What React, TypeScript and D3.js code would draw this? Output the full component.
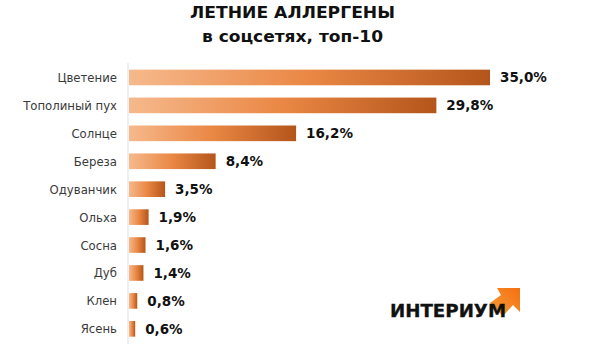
import React from "react";
import * as d3 from "d3";

const categories = ["Цветение", "Тополиный пух", "Солнце", "Береза", "Одуванчик", "Ольха", "Сосна", "Дуб", "Клен", "Ясень"];
const values = [35.0, 29.8, 16.2, 8.4, 3.5, 1.9, 1.6, 1.4, 0.8, 0.6];
const titleLines = ["ЛЕТНИЕ АЛЛЕРГЕНЫ", "в соцсетях, топ-10"];
const logoText = "ИНТЕРИУМ";

const W = 600;
const H = 351;

export default function App() {
  const x = d3.scaleLinear().domain([0, 35]).range([129, 490]);
  const y = d3
    .scaleBand<string>()
    .domain(categories)
    .range([63.5, 342.8])
    .paddingInner(0.44)
    .paddingOuter(0.22);
  const fmt = (v: number) => v.toFixed(1).replace(".", ",") + "%";

  return (
    <svg
      width={W}
      height={H}
      style={{ position: "absolute", left: 0, top: 0, background: "#fff" }}
    >
      <defs>
        <linearGradient id="barGrad" x1="0" y1="0" x2="1" y2="0">
          <stop offset="0%" stopColor="#F6B98C" />
          <stop offset="50%" stopColor="#EA8744" />
          <stop offset="100%" stopColor="#B4551B" />
        </linearGradient>
        <linearGradient id="arrowGrad" x1="0" y1="1" x2="1" y2="0">
          <stop offset="0%" stopColor="#FA9E35" />
          <stop offset="100%" stopColor="#F36F12" />
        </linearGradient>
      </defs>

      <text
        x={190}
        y={18}
        textLength={205}
        lengthAdjust="spacingAndGlyphs"
        fontFamily="DejaVu Sans"
        fontWeight="bold"
        fontSize={16}
        fill="#111"
      >
        {titleLines[0]}
      </text>
      <text
        x={202}
        y={42}
        textLength={181}
        lengthAdjust="spacingAndGlyphs"
        fontFamily="DejaVu Sans"
        fontWeight="bold"
        fontSize={16}
        fill="#111"
      >
        {titleLines[1]}
      </text>

      <line x1={x(0) - 1} x2={x(0) - 1} y1={63} y2={344} stroke="#dde1e8" strokeWidth={1} />

      {categories.map((c, i) => {
        const by = y(c) as number;
        const bw = y.bandwidth();
        const cy = by + bw / 2;
        return (
          <g key={c}>
            <rect
              x={x(0)}
              y={by}
              width={x(values[i]) - x(0)}
              height={bw}
              fill="url(#barGrad)"
            />
            <text
              x={117}
              y={cy + 4.5}
              textAnchor="end"
              fontFamily="DejaVu Sans"
              fontSize={11.7}
              fill="#3a3a3a"
            >
              {c}
            </text>
            <text
              x={x(values[i]) + 10}
              y={cy + 5}
              fontFamily="DejaVu Sans"
              fontWeight="bold"
              fontSize={13.5}
              fill="#111"
            >
              {fmt(values[i])}
            </text>
          </g>
        );
      })}

      <polygon
        points="497,288 520,288 520,312 513,305 503,316 490,303 501,295"
        fill="url(#arrowGrad)"
      />
      <text
        x={390}
        y={317}
        textLength={116}
        lengthAdjust="spacingAndGlyphs"
        fontFamily="DejaVu Sans"
        fontWeight="bold"
        fontSize={17}
        fill="#111"
        stroke="#111"
        strokeWidth={0.3}
      >
        {logoText}
      </text>
    </svg>
  );
}
